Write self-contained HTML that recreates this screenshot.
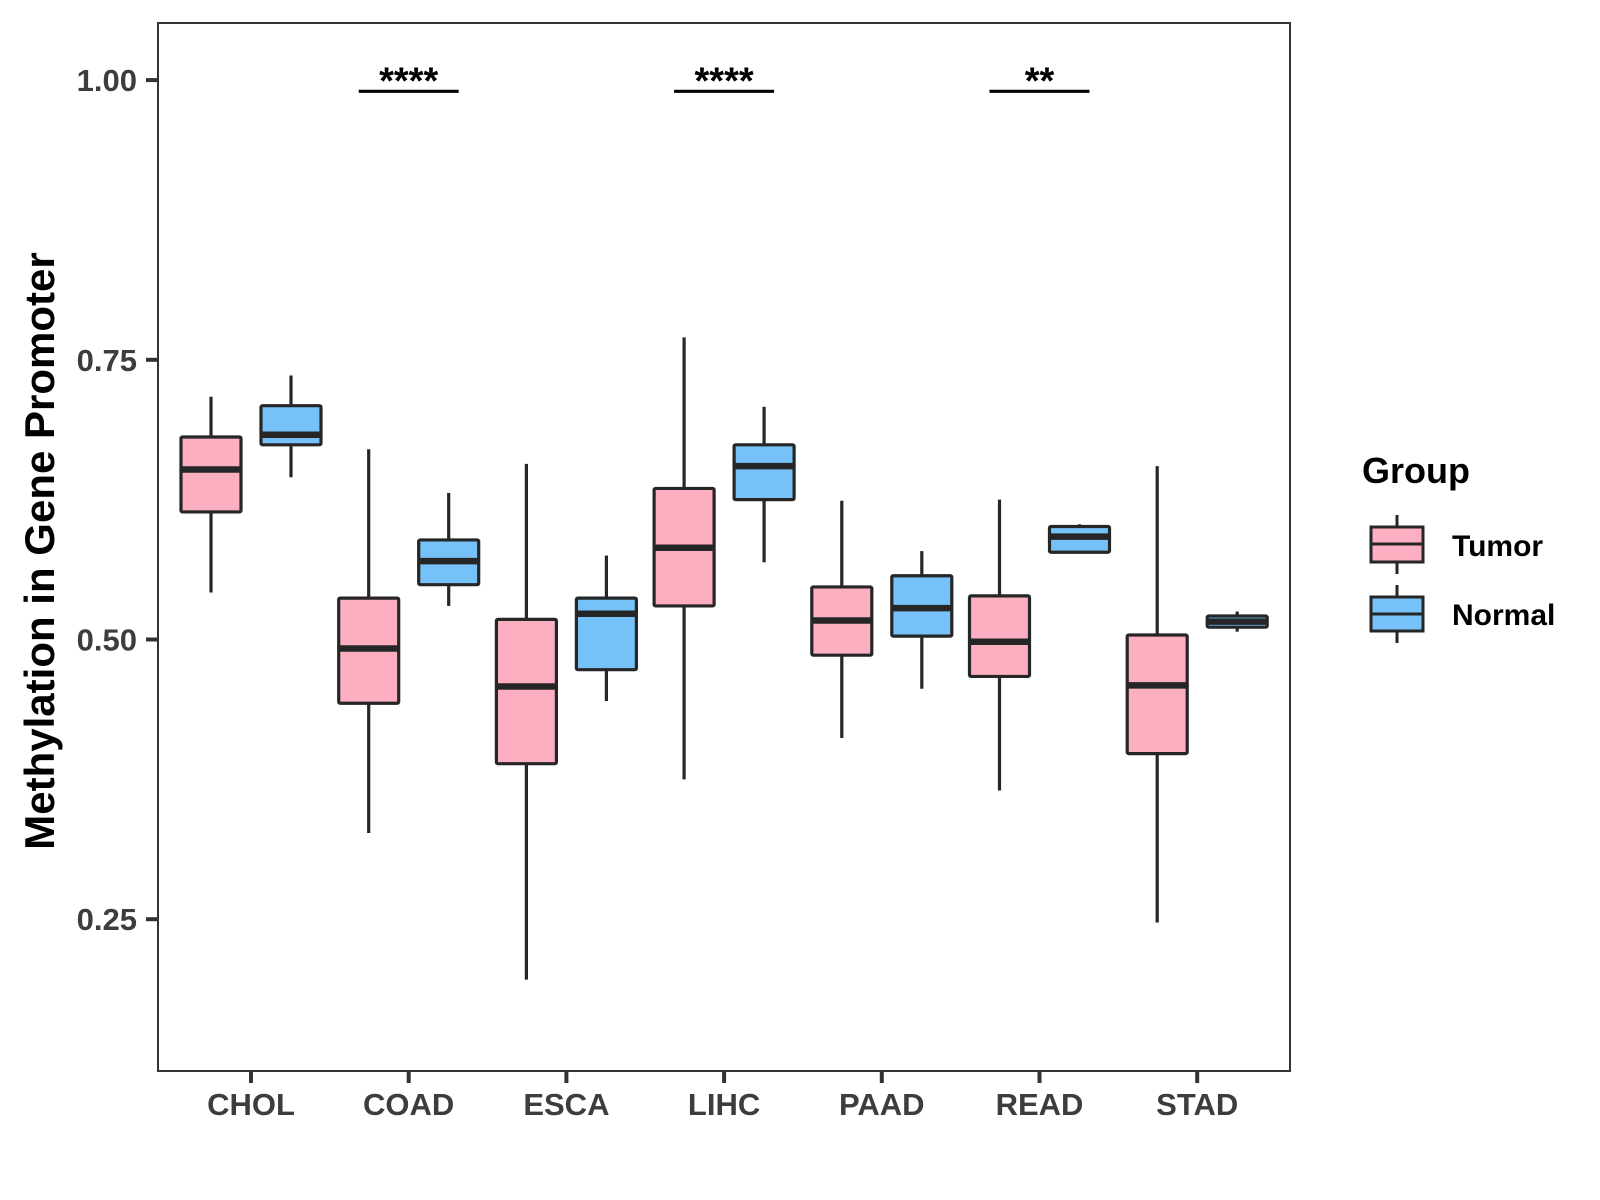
<!DOCTYPE html>
<html><head><meta charset="utf-8"><style>
html,body{margin:0;padding:0;background:#fff;}
svg{display:block;font-family:"Liberation Sans",Arial,sans-serif;}
</style></head><body>
<svg id="chart" width="1600" height="1200" viewBox="0 0 1600 1200">
<rect x="0" y="0" width="1600" height="1200" fill="#fff"/>
<g id="marks"></g>
<rect x="158" y="23" width="1132" height="1048" fill="none" stroke="#333" stroke-width="2"/>
<g id="axes"></g>
<text transform="translate(54,551) rotate(-90)" text-anchor="middle" font-size="42" font-weight="bold" fill="#000">Methylation in Gene Promoter</text>
<g>
<text x="1362" y="483" font-size="36" font-weight="bold" fill="#000">Group</text>
<g>
<line x1="1397" y1="515" x2="1397" y2="574" stroke="#262626" stroke-width="3"/>
<rect x="1371" y="527" width="52" height="35" fill="#fcafc1" stroke="#262626" stroke-width="3"/>
<line x1="1371" y1="544" x2="1423" y2="544" stroke="#262626" stroke-width="3"/>
<text x="1452" y="556" font-size="30" font-weight="bold" fill="#000">Tumor</text>
</g>
<g>
<line x1="1397" y1="585" x2="1397" y2="643" stroke="#262626" stroke-width="3"/>
<rect x="1371" y="597" width="52" height="34" fill="#76c2f8" stroke="#262626" stroke-width="3"/>
<line x1="1371" y1="614" x2="1423" y2="614" stroke="#262626" stroke-width="3"/>
<text x="1452" y="625" font-size="30" font-weight="bold" fill="#000">Normal</text>
</g>
</g>
</svg>
<script>
const categories = ["CHOL","COAD","ESCA","LIHC","PAAD","READ","STAD"];
// [low whisker, Q1, median, Q3, high whisker]
const tumorStats = [
  [0.542,0.614,0.652,0.681,0.717],
  [0.327,0.443,0.492,0.537,0.670],
  [0.196,0.389,0.458,0.518,0.657],
  [0.375,0.530,0.582,0.635,0.770],
  [0.412,0.486,0.517,0.547,0.624],
  [0.365,0.467,0.498,0.539,0.625],
  [0.247,0.398,0.459,0.504,0.655]
];
const normalStats = [
  [0.645,0.674,0.683,0.709,0.736],
  [0.530,0.549,0.570,0.589,0.631],
  [0.445,0.473,0.523,0.537,0.575],
  [0.569,0.625,0.655,0.674,0.708],
  [0.456,0.503,0.528,0.557,0.579],
  [0.577,0.578,0.592,0.601,0.603],
  [0.507,0.511,0.516,0.521,0.525]
];
const yTicks = [0.25,0.50,0.75,1.00];
const yTickLabels = ["0.25","0.50","0.75","1.00"];
const sigCategories = ["COAD","LIHC","READ"];
const sigLabels = ["****","****","**"];
const sigLevel = 0.99;

const NS="http://www.w3.org/2000/svg";
const y = v => 639.5 - (v-0.5)*1118.8;
const x = i => 251 + i*157.7;
const marks = document.getElementById('marks');
const axes = document.getElementById('axes');
function mk(tag, attrs, parent){
  const e=document.createElementNS(NS,tag);
  for(const k in attrs) e.setAttribute(k,attrs[k]);
  parent.appendChild(e); return e;
}
function drawBox(cx, s, fill, name){
  const g=mk('g',{},marks);
  
  
  const hw=30;
  mk('line',{x1:cx,x2:cx,y1:y(s[4]),y2:y(s[3]),stroke:'#262626','stroke-width':3.2},g);
  mk('line',{x1:cx,x2:cx,y1:y(s[1]),y2:y(s[0]),stroke:'#262626','stroke-width':3.2},g);
  mk('rect',{x:cx-hw,y:y(s[3]),width:hw*2,height:Math.max(0.5,y(s[1])-y(s[3])),fill:fill,stroke:'#262626','stroke-width':3.2,rx:1.5},g);
  mk('line',{x1:cx-hw,x2:cx+hw,y1:y(s[2]),y2:y(s[2]),stroke:'#262626','stroke-width':6.5},g);
}
categories.forEach((c,i)=>{
  drawBox(x(i)-40, tumorStats[i], '#fcafc1', 'box-tumor-'+c.toLowerCase());
  drawBox(x(i)+40, normalStats[i], '#76c2f8', 'box-normal-'+c.toLowerCase());
  mk('line',{x1:x(i),x2:x(i),y1:1071,y2:1083,stroke:'#333','stroke-width':4},axes);
  const t=mk('text',{x:x(i),y:1115,'text-anchor':'middle','font-size':31,'font-weight':'bold',fill:'#3d3d3d'},axes);
  
  
  t.textContent=c;
});
yTicks.forEach((v,i)=>{
  mk('line',{x1:146,x2:158,y1:y(v),y2:y(v),stroke:'#333','stroke-width':4},axes);
  const t=mk('text',{x:137,y:y(v)+11,'text-anchor':'end','font-size':31,'font-weight':'bold',fill:'#3d3d3d'},axes);
  
  
  t.textContent=yTickLabels[i];
});
sigCategories.forEach((c,j)=>{
  const i=categories.indexOf(c);
  const g=mk('g',{},marks);
  
  
  mk('line',{x1:x(i)-50,x2:x(i)+50,y1:y(sigLevel),y2:y(sigLevel),stroke:'#000','stroke-width':3.2},g);
  const t=mk('text',{x:x(i),y:y(sigLevel)+2,'text-anchor':'middle','font-size':38,'font-weight':'bold',fill:'#000'},g);
  t.textContent=sigLabels[j];
});
</script>
</body></html>
